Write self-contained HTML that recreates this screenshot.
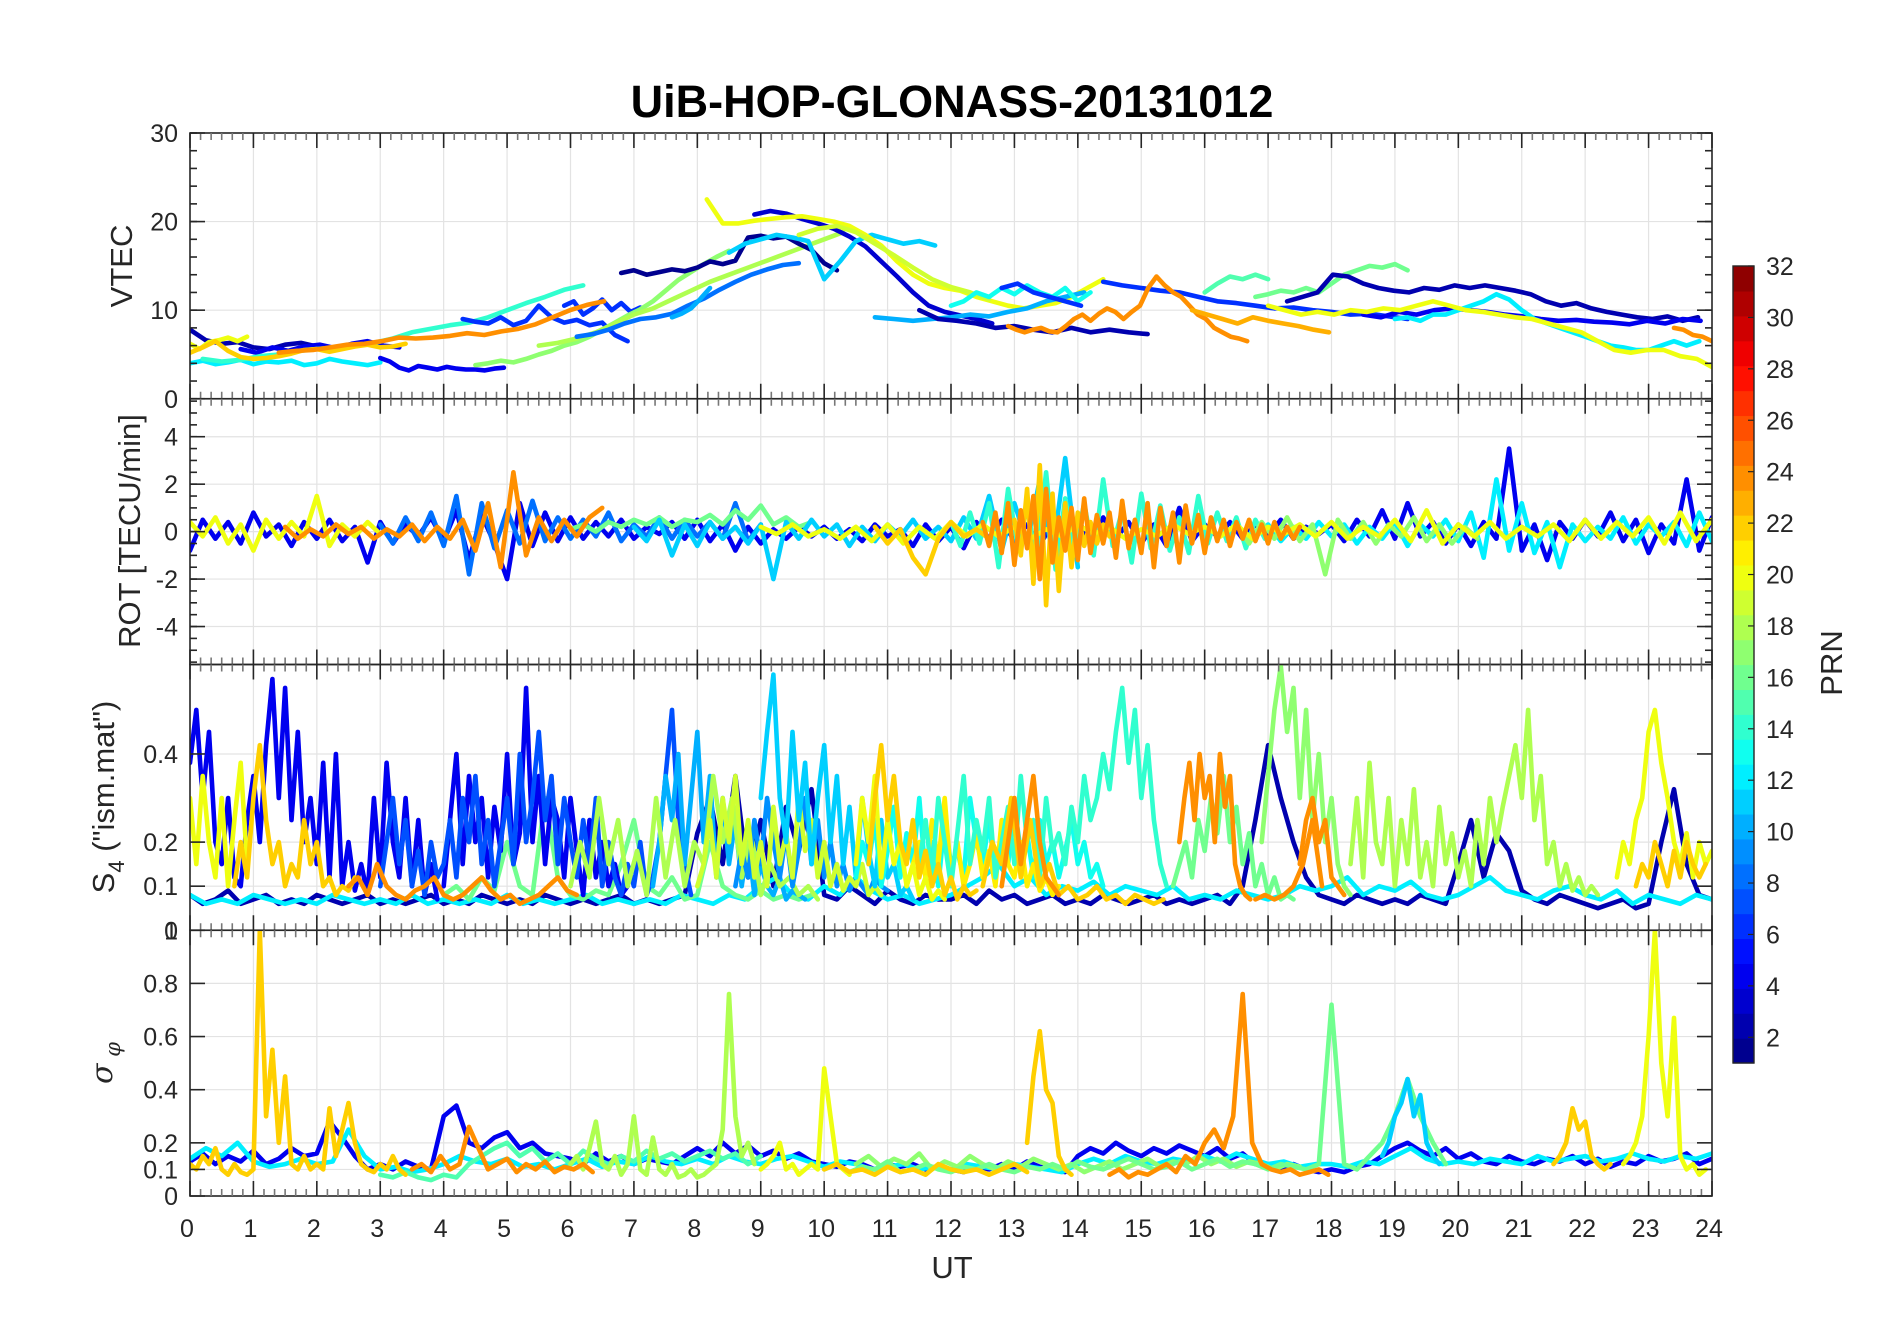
<!DOCTYPE html>
<html><head><meta charset="utf-8"><title>UiB-HOP-GLONASS-20131012</title>
<style>
html,body{margin:0;padding:0;background:#fff;}
svg{display:block;font-family:"Liberation Sans",Arial,sans-serif;}
</style></head>
<body>
<svg id="chart" width="1902" height="1330" viewBox="0 0 1902 1330" xmlns="http://www.w3.org/2000/svg">
<rect width="1902" height="1330" fill="#fff"/>
<text x="952" y="117" text-anchor="middle" font-size="45" font-weight="bold" fill="#000">UiB-HOP-GLONASS-20131012</text>
<g id="panels"></g>
<g id="cbar"></g>
<text x="952" y="1278" text-anchor="middle" font-size="31" fill="#262626">UT</text>
<text transform="translate(132,266) rotate(-90)" text-anchor="middle" font-size="31" fill="#262626">VTEC</text>
<text transform="translate(140,531) rotate(-90)" text-anchor="middle" font-size="31" fill="#262626">ROT [TECU/min]</text>
<text transform="translate(114,797) rotate(-90)" text-anchor="middle" font-size="31" fill="#262626">S<tspan font-size="22" dy="10">4</tspan><tspan dy="-10"> ("ism.mat")</tspan></text>
<text transform="translate(112,1063) rotate(-90)" text-anchor="middle" font-size="30" font-style="italic" fill="#262626" font-family="'DejaVu Serif',serif">σ<tspan font-size="21" dy="8"> φ</tspan></text>
<text transform="translate(1842,663) rotate(-90)" text-anchor="middle" font-size="31" fill="#262626">PRN</text>
</svg>
<script>
// ===== data: each series = [prn, startHour, stepHours, values] =====
const hourTicks=[0,1,2,3,4,5,6,7,8,9,10,11,12,13,14,15,16,17,18,19,20,21,22,23,24];
const vtecTicks=[0,10,20,30];
const rotTicks=[-4,-2,0,2,4];
const s4Ticks=[0,0.1,0.2,0.4];
const s4TickLabels=["0","0.1","0.2","0.4"];
const sigTicks=[0,0.1,0.2,0.4,0.6,0.8,1];
const sigTickLabels=["0","0.1","0.2","0.4","0.6","0.8","1"];
const cbarTicks=[2,4,6,8,10,12,14,16,18,20,22,24,26,28,30,32];

const vtecSeries=[
[12,0,.2,[4,4.3,3.9,4.1,4.4,3.9,4.2,4.1,4.3,3.8,4.0,4.5,4.2,4.0,3.8,4.1]],
[2,0,.25,[7.8,6.6,6.2,6.4,5.8,5.6,6.1,6.3,5.9]],
[4,0.8,.25,[5.6,5.2,5.8,5.4,5.9,6.1,5.7,6.2,6.5,6.0,5.8]],
[4,3.0,.15,[4.6,4.2,3.5,3.2,3.7,3.5,3.3,3.6,3.4,3.3,3.3,3.2,3.4,3.5]],
[14,0.2,.3,[4.5,4.2,4.4,4.8,5,5.4,5.6,5.8,6.0,6.3,6.8,7.5,7.9,8.3,8.6,9.2,10,10.8,11.5,12.3,12.8]],
[20,0,.15,[6.2,5.6,6.4,6.6,6.9,6.5,7.0]],
[22,0,.2,[5.2,5.8,6.5,5.4,4.7,4.5,4.6,4.8,5.1,5.5,5.6,5.3,5.6,5.9,6.1,5.8,5.9,6.2]],
[6,4.3,.2,[9,8.7,8.5,9.2,8.3,8.8,10.5,9.2,8.6,8.9,8.3,8.6,7.2,6.5]],
[6,5.9,.15,[10.5,11,9.5,10.2,11.2,10,10.8,9.8,10.3]],
[17,4.5,.2,[3.8,4.0,4.3,4.1,4.5,5.0,5.4,6.0,6.4,7.0,7.8,8.6,9.4,10.1,11.0,12.2,13.4,14.3,15.2,16.0,16.7]],
[18,5.5,.3,[6.0,6.3,6.8,7.5,8.5,9.5,10.2,11.2,12.2,13.2,14.0,14.8,15.6,16.4,17.2,18.0,18.8]],
[8,6.1,.25,[7.0,7.3,7.8,8.5,9,9.2,9.6,10.5,11.3,12.3,13.2,14,14.6,15.1,15.3]],
[10,7.6,.15,[9.2,9.6,10.2,11.3,12.5]],
[24,1.4,.27,[5.2,5.4,5.5,5.8,6.1,6.2,6.5,6.9,6.8,6.9,7.1,7.4,7.2,7.6,7.9,8.4,9.2,10,10.6,11]],
[1,6.8,.2,[14.2,14.5,14,14.3,14.6,14.4,14.8,15.5,15.2,15.6,18.2,18.4,18.1,18.3,17.5,16.8,15.3,14.5]],
[3,8.9,.25,[20.8,21.2,20.9,20.3,19.8,19.2,18.3,17.2,15.5,13.8,12.0,10.5,9.8,9.4,9.0,8.5]],
[11,8.5,.25,[16.5,17.5,18,18.5,18.2,17.8,13.5,15.5,17.8,18.5,18,17.5,17.8,17.3]],
[20,8.15,.25,[22.5,19.8,19.8,20.1,20.3,20.5,20.6,20.3,20,19.5,18.5,17.3,15.5,14,13,12.5,12.2,11.5,11,10.5,10.2,10.5,10.8,11.5,12.5,13.5]],
[19,9.6,.3,[18.5,19.2,19.5,18.8,17.5,16.2,14.8,13.5,12.6,12.0,11.2]],
[10,10.8,.3,[9.2,9,8.8,9,9.2,9.5,9.3,9.8,10.2,11,11.5,12]],
[2,11.5,.3,[10,9,8.8,8.5,8,8.2,7.8,7.5,8,7.5,7.8,7.5,7.3]],
[13,12.0,.2,[10.5,11,12,11.5,12.5,11.8,12.8,12,11.5,12.5,11,12]],
[6,12.8,.25,[12.5,13,12,11.5,11,10.5]],
[6,14.4,.3,[13.2,12.8,12.5,12.2,12,11.5,11,10.8,10.5,10.2,10.3,10,9.8,9.5,9.6,9.3,9]],
[24,12.9,.13,[8.2,7.8,7.5,7.8,8,7.6,7.5,8.2,9,9.5,8.8,9.6,10.2,9.8,9,9.8,10.5,12.5,13.8,12.8,12,11.5,10.5,9.5,9,8,7.5,7,6.8,6.5]],
[23,15.8,.24,[10,9.5,9,8.5,9.2,8.8,8.5,8.2,7.8,7.5]],
[15,16,.2,[12,13,13.8,13.5,14,13.5]],
[16,16.8,.2,[11.5,11.8,12.2,12,12.5,12,13,14,14.5,15,14.8,15.2,14.5]],
[2,17.3,.24,[11,11.5,12,14,13.8,13,12.5,12.2,12,12.5,12.3,12.8,12.5,12.8,12.5,12.2,11.8,11,10.5,10.8,10.2,9.8,9.5,9.2,9,9.3,8.8,9.2]],
[4,18.5,.28,[9.5,9.2,9.8,9.5,10,10.2,10,9.8,9.5,9.3,9,8.8,8.9,8.7,8.6,8.4,8.8,8.5,9,8.8]],
[12,19,.2,[9,9.2,8.8,9.5,9.5,10,10.5,11,11.8,11.2,10,9,8.5,8,7.5,7,6.5,6,5.8,5.5,5.5,6,6.5,6,6.5]],
[20,17,.26,[10.5,10,9.5,9.8,9.5,10,9.8,10.2,10,10.5,11,10.5,10,9.8,9.5,9.2,9,8.5,8,7.5,6.5,5.5,5.2,5.5,5.5,4.8,4.5,3.5]],
[24,23.4,.15,[8,7.8,7.2,7,6.5]]
];

const rotSeries=[
[4,0,.2,[-0.8,0.5,-0.3,0.4,-0.5,0.8,-0.2,0.3,-0.6,0.4,-0.3,0.5,-0.4,0.2,-1.3,0.4,-0.5,0.3,-0.2,0.6,-0.4,0.9,-1.2,0.7,-0.5,-2,1.2,-0.6,0.8,-0.4,0.6,-0.3,0.4,-0.2,0.5,-0.3,0.2,-0.1,0.4,-0.3,0.5,-0.4,0.3,-0.8,0.2,-0.5,0.1,-0.3,0.2,-0.2,0.2,-0.3,0.1,-0.4,0.3,-0.2,0.1,-0.6,0.3,-0.4,0.2,-0.7,0.4,-0.3,0.5,-0.4,0.3,-0.6,0.4,-0.3,0.5,-0.4,0.6,-0.3,0.4,-0.5,0.3,-0.6,1,-0.4,0.3,-0.2,0.4,-0.3,0.3,-0.2,0.5,-0.3,0.2,-0.1,0.3,-0.4,0.5,-0.2,0.9,-0.3,1.2,-0.2,0.4,-0.5,0.3,-0.6,0.4,-0.3,3.5,-0.8,0.3,-1.2,0.4,-0.3,0.5,-0.2,0.8,-0.4,0.5,-0.9,0.3,-0.5,2.2,-0.8,0.6]],
[8,3,.2,[0.3,-0.5,0.6,-0.4,0.8,-0.6,1.5,-1.8,1.2,-0.7,0.9,-0.5,1.3,-0.4,0.6,-0.3,0.5,-0.2,0.8,-0.4,0.3,-0.2,0.6,-0.3,0.5,-0.2,0.4,-0.3,1.2,-0.4,0.3]],
[16,6,.2,[0.1,0.3,0,0.4,0.2,0.5,0.3,0.6,0.2,0.5,0.4,0.7,0.3,0.9,0.5,1.1,0.3,0.6,0.2,0.4]],
[11,7,.2,[0.2,-0.4,0.5,-1,0.3,-0.6,0.4,-0.3,0.2,-0.5,0.3,-2,0.4,-0.3,0.5,-0.2,0.3,-0.6,0.2,-0.4,0.3,-0.2,0.5,-0.3,0.2,-0.4,0.6,-0.3,1.5,-0.8,1.2,-0.5,2.2,-1,3.1,-1.5]],
[12,17,.2,[0.3,-0.4,0.2,-0.3,0.4,-0.2,0.3,-0.5,0.2,-0.3,0.4,-0.6,0.3,-0.2,0.5,-0.4,0.8,-1.1,2.2,-0.8,1.2,-0.9,0.4,-1.5,0.3,-0.4,0.2,-0.3,0.6,-0.5,0.3,-0.2,0.4,-0.6,0.8,-0.4]],
[14,12,.15,[0.4,-0.6,0.8,-0.5,1.2,-1.5,1.8,-0.6,1.0,-1.2,2.5,-1.6,1.4,-0.8,1.2,-1,2.2,-0.6,0.9,-1.3,1.6,-0.7,1.1,-0.8,0.6,-0.9,1.5,-0.5,0.8,-0.4,0.6,-0.7,0.5,-0.3]],
[17,16.5,.2,[0.3,-0.5,0.4,-0.3,0.6,-0.4,0.3,-1.8,0.5,-0.3,0.4,-0.5,0.3,-0.2,0.6,-0.4,0.3,-0.5,0.2,-0.3]],
[20,0,.2,[0.4,-0.2,0.6,-0.5,0.3,-0.8,0.5,-0.3,0.4,-0.2,1.5,-0.6,0.3,-0.2,0.4,-0.1]],
[20,9,.25,[0.2,-0.1,0.3,-0.2,0.1,-0.3,0.2,-0.4,0.3,-0.5,0.2,-0.3,0.4,-0.2,0.3,-0.2,0.2,-0.3,0.1,-0.2,0.3,-0.1,0.2,-0.3,0.1,-0.2,0.3,-0.1,0.2,-0.2,0.3,-0.3,0.2,-0.1,0.3,-0.2,0.4,-0.3,0.2,-0.2,0.5,-0.4,0.9,-0.5,0.3,-0.2,0.4,-0.3,0.2,-0.2,0.3,-0.4,0.5,-0.3,0.4,-0.2,0.6,-0.5,0.8,-0.4,0.5]],
[22,10.8,.2,[0.2,-0.5,0.1,-1.1,-1.8,-0.3,0.4,-0.2,0.1,-0.3]],
[22,13,.1,[0.5,-1,1.8,-2.2,2.8,-3.1,1.6,-2.5,1.2,-1.5,0.8,-0.6,0.4,-0.5,0.3,-0.2]],
[24,1.5,.2,[0.2,-0.3,0.1,-0.2,0.3,-0.1,0.2,-0.3,0.1,-0.2,0.3,-0.4,0.2,-0.3,0.5,-0.8,1.2,-1.5,2.5,-1.0,0.6,-0.4,0.5,-0.2,0.6,1.0]],
[24,12.5,.1,[0.4,-0.6,0.8,-0.9,1.2,-1.4,0.9,-0.7,1.5,-2.0,1.8,-1.3,0.6,-0.8,1.0,-1.2,1.4,-0.9,0.7,-0.5,0.8,-1.1,1.3,-0.7,0.5,-0.9,1.2,-1.5,1.0,-0.6,0.8,-1.3,1.1,-0.5,0.7,-0.9,0.6,-0.4,0.5,-0.6,0.4,-0.3,0.5,-0.4,0.3,-0.5,0.4,-0.3,0.2,-0.3,0.2]]
];

const s4Series=[
[2,0,.2,[0.08,0.06,0.07,0.09,0.06,0.07,0.08,0.06,0.07,0.06,0.08,0.07,0.06,0.07,0.08,0.06,0.07,0.06,0.07,0.08,0.06,0.07,0.06,0.08,0.07,0.06,0.07,0.06,0.08,0.07,0.06,0.07,0.06,0.07,0.08,0.06,0.07,0.06,0.07,0.08,0.22,0.3,0.15,0.35,0.12,0.25,0.1,0.28,0.18,0.32,0.08,0.07,0.1,0.08,0.06,0.09,0.07,0.06,0.08,0.07,0.07,0.08,0.06,0.09,0.07,0.08,0.06,0.07,0.08,0.06,0.07,0.06,0.08,0.07,0.06,0.07,0.08,0.06,0.07,0.06,0.07,0.08,0.06,0.1,0.25,0.42,0.3,0.2,0.12,0.08,0.07,0.06,0.08,0.07,0.06,0.07,0.06,0.08,0.07,0.06,0.15,0.25,0.12,0.22,0.18,0.09,0.07,0.06,0.08,0.07,0.06,0.05,0.06,0.07,0.05,0.06,0.2,0.32,0.15,0.08,0.07]],
[12,0,.25,[0.08,0.06,0.07,0.06,0.08,0.07,0.06,0.07,0.06,0.08,0.07,0.06,0.07,0.06,0.08,0.06,0.07,0.06,0.07,0.06,0.08,0.06,0.07,0.06,0.07,0.08,0.06,0.07,0.06,0.07,0.06,0.08,0.07,0.06,0.08,0.07,0.1,0.12,0.08,0.07,0.1,0.08,0.12,0.09,0.07,0.08,0.06,0.07,0.08,0.1,0.12,0.15,0.1,0.12,0.08,0.1,0.09,0.11,0.08,0.1,0.09,0.08,0.1,0.07,0.08,0.07,0.09,0.08,0.07,0.08,0.1,0.09,0.1,0.12,0.08,0.1,0.09,0.11,0.08,0.07,0.08,0.1,0.12,0.09,0.08,0.07,0.09,0.1,0.08,0.07,0.09,0.06,0.08,0.07,0.06,0.08,0.07]],
[16,4,.2,[0.08,0.1,0.07,0.12,0.09,0.2,0.1,0.08,0.3,0.12,0.08,0.07,0.09,0.08,0.15,0.25,0.1,0.08,0.12,0.07,0.08,0.2,0.1,0.08,0.07,0.09,0.07,0.08,0.07,0.08]],
[4,0,.1,[0.38,0.5,0.3,0.45,0.2,0.15,0.3,0.12,0.1,0.25,0.35,0.2,0.42,0.57,0.3,0.55,0.25,0.45,0.2,0.3,0.15,0.38,0.12,0.4,0.1,0.2,0.09,0.15,0.08,0.3,0.12,0.38,0.2,0.12,0.3,0.1,0.25,0.08,0.15,0.07]],
[4,4,.1,[0.1,0.25,0.4,0.15,0.35,0.2,0.3,0.12,0.28,0.18,0.4,0.15,0.22,0.55,0.2,0.35,0.15,0.3,0.25,0.12,0.3,0.18,0.08,0.25,0.12,0.2,0.1,0.15,0.08,0.1]],
[7,3,.1,[0.1,0.2,0.3,0.15,0.25,0.1,0.18,0.08,0.2,0.12,0.15,0.25,0.12,0.3,0.2,0.35,0.15,0.25,0.1,0.2,0.3,0.15,0.4,0.2,0.3,0.45,0.25,0.35,0.15,0.3,0.2,0.12,0.25,0.15,0.3,0.1,0.2,0.12,0.08,0.15,0.1,0.2,0.08,0.12,0.2,0.35,0.5,0.25,0.15,0.08]],
[10,7.3,.1,[0.1,0.2,0.35,0.25,0.4,0.15,0.3,0.45,0.2,0.35,0.12,0.3,0.15,0.25,0.1,0.2,0.08,0.15,0.1,0.08,0.12,0.07,0.09,0.08,0.07]],
[18,6,.15,[0.1,0.2,0.12,0.3,0.15,0.25,0.1,0.18,0.08,0.3,0.12,0.25,0.1,0.2,0.15,0.35,0.2,0.3,0.12,0.22,0.08,0.15,0.1,0.12,0.08,0.1,0.07]],
[9,8.6,.1,[0.1,0.18,0.12,0.25,0.15,0.3,0.2,0.12,0.22,0.1,0.18,0.3,0.15,0.25,0.12,0.2,0.1,0.15,0.09,0.12,0.1,0.08,0.12,0.1,0.09]],
[19,8.0,.1,[0.1,0.15,0.25,0.12,0.3,0.2,0.35,0.15,0.25,0.12,0.2,0.1,0.28,0.15,0.22,0.12,0.3,0.18,0.25,0.12,0.2,0.1,0.15,0.09,0.12,0.1,0.15,0.08,0.1,0.08]],
[11,9,.1,[0.3,0.45,0.58,0.3,0.2,0.45,0.25,0.38,0.15,0.3,0.42,0.2,0.35,0.15,0.28,0.12,0.3,0.18,0.1,0.25,0.12,0.15,0.08,0.1,0.07]],
[13,10.5,.1,[0.12,0.2,0.15,0.25,0.1,0.18,0.28,0.12,0.22,0.15,0.3,0.12,0.2,0.1,0.25,0.15,0.18,0.12,0.3,0.2,0.15,0.25,0.12,0.2,0.15,0.28,0.18,0.22,0.12,0.25,0.15,0.2,0.12,0.18,0.25,0.15,0.2,0.12,0.15,0.1]],
[21,11.3,.1,[0.1,0.15,0.2,0.12,0.25,0.15,0.3,0.12,0.2,0.1,0.15,0.22,0.12,0.18,0.1,0.25,0.15,0.12,0.2,0.1,0.15,0.09,0.12,0.08,0.1]],
[14,11.5,.1,[0.15,0.25,0.12,0.3,0.2,0.1,0.22,0.35,0.15,0.25,0.18,0.3,0.12,0.2,0.28,0.15,0.35,0.2,0.25,0.12,0.3,0.18,0.22,0.15,0.28,0.2,0.35,0.25,0.3,0.4,0.32,0.45,0.55,0.38,0.5,0.3,0.42,0.25,0.15,0.1]],
[16,15.5,.1,[0.1,0.15,0.2,0.12,0.25,0.18,0.3,0.22,0.35,0.2,0.28,0.15,0.22,0.1,0.15,0.08,0.12,0.07,0.08,0.07]],
[17,16.9,.1,[0.2,0.35,0.5,0.6,0.45,0.55,0.3,0.5,0.25,0.4,0.2,0.3,0.15,0.1,0.08]],
[18,18.3,.1,[0.15,0.3,0.12,0.38,0.2,0.15,0.3,0.1,0.25,0.15,0.32,0.12,0.2,0.1,0.28,0.15,0.22,0.12,0.18,0.1,0.25,0.15,0.3,0.2,0.28,0.35,0.42,0.3,0.5,0.25,0.35,0.15,0.2,0.1,0.15,0.09,0.12,0.08,0.1,0.08]],
[20,0,.1,[0.3,0.15,0.35,0.2,0.12,0.3,0.1,0.25,0.38,0.15]],
[20,10.5,.1,[0.15,0.3,0.2,0.35,0.12,0.25,0.15,0.2,0.1,0.15,0.08,0.12,0.07,0.09,0.07]],
[20,22.5,.1,[0.12,0.2,0.15,0.25,0.3,0.45,0.5,0.38,0.3,0.2,0.15,0.22,0.12,0.2,0.15,0.18]],
[22,0.7,.1,[0.1,0.2,0.12,0.3,0.42,0.25,0.15,0.2,0.1,0.15,0.12,0.25,0.15,0.2,0.1,0.12,0.08,0.1,0.09,0.12]],
[22,10.7,.1,[0.15,0.3,0.42,0.25,0.35,0.2,0.15,0.25,0.12,0.18,0.1,0.15,0.08,0.12,0.07,0.1,0.08,0.09]],
[22,12.5,.15,[0.1,0.2,0.15,0.3,0.12,0.25,0.1,0.15,0.08,0.1,0.07,0.08,0.1,0.07,0.08,0.06,0.08,0.07,0.06,0.07]],
[22,22.8,.1,[0.1,0.15,0.12,0.2,0.15,0.1,0.18,0.12,0.2,0.15,0.12,0.15]],
[24,2.5,.15,[0.1,0.12,0.08,0.15,0.1,0.08,0.07,0.09,0.1,0.12,0.08,0.07,0.08,0.1,0.12,0.09,0.07,0.08,0.06,0.07,0.08,0.1,0.12,0.09,0.08]],
[24,12.8,.1,[0.1,0.2,0.3,0.15,0.25,0.35,0.2,0.12,0.1,0.08]],
[24,15.6,.08,[0.2,0.3,0.38,0.25,0.4,0.3,0.35,0.2,0.4,0.28,0.35,0.15,0.1,0.08,0.07]],
[24,16.8,.15,[0.07,0.08,0.07,0.08,0.1,0.15,0.25,0.1]],
[24,17.5,.1,[0.15,0.25,0.3,0.2,0.25,0.12,0.1,0.08]]
];

const sigSeries=[
[4,0,.2,[0.13,0.16,0.12,0.15,0.13,0.17,0.12,0.14,0.18,0.15,0.16,0.28,0.22,0.15,0.1,0.12,0.1,0.13,0.11,0.1,0.3,0.34,0.2,0.18,0.22,0.24,0.18,0.2,0.16,0.15,0.14,0.12,0.16,0.13,0.15,0.12,0.14,0.13,0.12,0.15,0.18,0.15,0.2,0.16,0.19,0.15,0.17,0.14,0.16,0.13,0.12,0.11,0.13,0.12,0.1,0.12,0.11,0.12,0.1,0.11,0.1,0.09,0.11,0.1,0.12,0.1,0.13,0.11,0.1,0.09,0.15,0.18,0.16,0.2,0.17,0.15,0.18,0.16,0.19,0.17,0.15,0.18,0.14,0.16,0.12,0.11,0.1,0.12,0.1,0.09,0.1,0.09,0.11,0.12,0.15,0.18,0.2,0.17,0.15,0.18,0.14,0.16,0.13,0.12,0.15,0.13,0.12,0.14,0.13,0.15,0.12,0.14,0.11,0.13,0.12,0.15,0.13,0.14,0.16,0.12,0.14]],
[12,0,.25,[0.14,0.18,0.15,0.2,0.13,0.11,0.12,0.14,0.12,0.13,0.25,0.15,0.1,0.11,0.09,0.1,0.12,0.15,0.13,0.12,0.14,0.11,0.12,0.1,0.12,0.14,0.11,0.13,0.12,0.15,0.13,0.12,0.14,0.12,0.15,0.13,0.12,0.14,0.15,0.13,0.11,0.13,0.12,0.1,0.11,0.12,0.1,0.11,0.1,0.12,0.11,0.1,0.12,0.11,0.1,0.09,0.12,0.14,0.12,0.15,0.13,0.12,0.14,0.13,0.15,0.13,0.16,0.14,0.12,0.13,0.11,0.12,0.12,0.11,0.13,0.12,0.15,0.18,0.14,0.12,0.13,0.12,0.14,0.13,0.12,0.15,0.13,0.14,0.15,0.13,0.14,0.16,0.14,0.13,0.15,0.14,0.16]],
[15,3,.2,[0.08,0.07,0.09,0.07,0.06,0.08,0.07,0.12,0.15,0.18,0.2,0.15,0.18,0.13,0.16,0.12,0.17,0.14,0.12,0.15,0.13,0.17,0.14,0.16,0.13,0.15,0.17,0.14,0.16,0.12,0.15]],
[17,10.5,.2,[0.12,0.15,0.11,0.14,0.12,0.16,0.1,0.13,0.11,0.15,0.12,0.1,0.13,0.11,0.14,0.12,0.1,0.12,0.09,0.11,0.13,0.1,0.12,0.14,0.11,0.13,0.12,0.15,0.12,0.14,0.11,0.13,0.12,0.1,0.12,0.11]],
[16,10,.2,[0.1,0.12,0.09,0.11,0.1,0.13,0.09,0.1,0.12,0.1,0.09,0.11,0.1,0.12,0.1,0.09,0.11,0.1,0.12,0.1,0.13,0.11,0.1,0.12,0.14,0.12,0.1,0.11,0.13,0.1,0.12,0.14,0.11,0.13,0.12,0.1,0.12,0.11,0.1,0.12,0.72,0.12,0.1,0.15,0.2,0.3,0.44,0.3,0.2,0.12]],
[18,6,.1,[0.12,0.15,0.1,0.18,0.28,0.12,0.1,0.15,0.08,0.12,0.3,0.1,0.08,0.22,0.1,0.08,0.12,0.07,0.08,0.1,0.07,0.08,0.1,0.12,0.25,0.76,0.3,0.15,0.2,0.12]],
[11,18.8,.1,[0.15,0.2,0.3,0.35,0.44,0.3,0.38,0.2,0.15,0.12]],
[20,9,.1,[0.1,0.12,0.15,0.2,0.1,0.12,0.08,0.1,0.12,0.1,0.48,0.3,0.12,0.1,0.08]],
[20,22.6,.1,[0.12,0.15,0.2,0.3,0.6,1.0,0.5,0.3,0.67,0.15,0.1,0.12,0.08,0.1]],
[22,0,.1,[0.12,0.1,0.15,0.12,0.18,0.1,0.08,0.12,0.09,0.08,0.1,1.0,0.3,0.55,0.2,0.45,0.12,0.1,0.15,0.1,0.12,0.1,0.33,0.15,0.25,0.35,0.2,0.12,0.1,0.09,0.12,0.1,0.15,0.1,0.08]],
[22,10,.2,[0.1,0.12,0.09,0.1,0.08,0.11,0.09,0.1,0.08,0.12,0.1,0.09,0.1,0.08,0.1,0.12,0.09]],
[22,13.2,.1,[0.2,0.45,0.62,0.4,0.35,0.15,0.1,0.08]],
[22,21.5,.1,[0.12,0.15,0.2,0.33,0.25,0.28,0.15,0.12,0.1,0.12]],
[24,3.5,.15,[0.1,0.12,0.09,0.15,0.1,0.12,0.26,0.18,0.1,0.12,0.14,0.09,0.12,0.1,0.13,0.09,0.11,0.1,0.12,0.09]],
[24,14.5,.15,[0.08,0.1,0.07,0.09,0.08,0.1,0.12,0.09,0.15,0.12,0.2,0.25,0.18,0.3,0.76,0.2,0.12,0.1,0.09,0.1,0.08,0.09,0.1,0.08]]
];

// ===== layout =====
const NS="http://www.w3.org/2000/svg";
const X0=190,X1=1712;
const PANEL_H=265.75;
const panelDefs=[
 {name:"vtec",top:133,min:0,max:30,ticks:vtecTicks,labels:vtecTicks.map(String),minor:2,series:vtecSeries},
 {name:"rot",top:133+PANEL_H,min:-5.6,max:5.6,ticks:rotTicks,labels:rotTicks.map(String),minor:0.5,series:rotSeries},
 {name:"s4",top:133+2*PANEL_H,min:0,max:0.603,ticks:s4Ticks,labels:s4TickLabels,minor:0,series:s4Series},
 {name:"sigma-phi",top:133+3*PANEL_H,min:0,max:1,ticks:sigTicks,labels:sigTickLabels,minor:0,series:sigSeries}
];
function xScale(t){return X0+(t/24)*(X1-X0);}
function jet(v){
 const c=x=>Math.round(255*Math.max(0,Math.min(1,x)));
 return `rgb(${c(1.5-Math.abs(4*v-3))},${c(1.5-Math.abs(4*v-2))},${c(1.5-Math.abs(4*v-1))})`;
}
function prnColor(p){return jet((p-0.5)/32);}
function mk(tag,attrs,parent){const e=document.createElementNS(NS,tag);for(const k in attrs)e.setAttribute(k,attrs[k]);parent.appendChild(e);return e;}

const root=document.getElementById("panels");
panelDefs.forEach((P,pi)=>{
 const y=v=>P.top+PANEL_H*(1-(v-P.min)/(P.max-P.min));
 const g=mk("g",{},root);
 
 
 const cid="clip"+pi;
 const cp=mk("clipPath",{id:cid},g);
 mk("rect",{x:X0,y:P.top,width:X1-X0,height:PANEL_H},cp);
 const grid=mk("g",{stroke:"#e3e3e3","stroke-width":1.2},g);
 
 
 hourTicks.forEach(h=>{const gx=xScale(h);mk("line",{x1:gx,x2:gx,y1:P.top,y2:P.top+PANEL_H},grid);});
 P.ticks.forEach(v=>{const gy=y(v);mk("line",{x1:X0,x2:X1,y1:gy,y2:gy},grid);});
 const sg=mk("g",{"clip-path":`url(#${cid})`,fill:"none","stroke-width":4.6,"stroke-linejoin":"round","stroke-linecap":"round"},g);
 
 
 P.series.forEach(s=>{
  const [prn,t0,dt,vals]=s;
  const d=vals.map((v,i)=>(i?"L":"M")+xScale(t0+i*dt).toFixed(1)+","+y(v).toFixed(1)).join("");
  const path=mk("path",{d:d,stroke:prnColor(prn)},sg);
  
  
 });
 const ax=mk("g",{stroke:"#262626","stroke-width":1.6,fill:"none"},g);
 
 
 mk("rect",{x:X0,y:P.top,width:X1-X0,height:PANEL_H},ax);
 for(let m=0;m<=24*6;m++){
  const gx=xScale(m/6),major=m%6===0,L=major?15:7;
  mk("line",{x1:gx,x2:gx,y1:P.top,y2:P.top+L,stroke:major?"#262626":"#777"},ax);
  mk("line",{x1:gx,x2:gx,y1:P.top+PANEL_H,y2:P.top+PANEL_H-L,stroke:major?"#262626":"#777"},ax);
 }
 if(P.minor){for(let v=P.min;v<=P.max+1e-9;v+=P.minor){const vv=Math.round(v/P.minor)*P.minor;if(vv<P.min||vv>P.max)continue;const gy=y(vv);mk("line",{x1:X0,x2:X0+7,y1:gy,y2:gy},ax);mk("line",{x1:X1,x2:X1-7,y1:gy,y2:gy},ax);}}
 P.ticks.forEach(v=>{const gy=y(v);mk("line",{x1:X0,x2:X0+15,y1:gy,y2:gy},ax);mk("line",{x1:X1,x2:X1-15,y1:gy,y2:gy},ax);});
 P.ticks.forEach((v,i)=>{
  const t=mk("text",{x:178,y:y(v)+9,"text-anchor":"end","font-size":25,fill:"#262626"},g);
  t.textContent=P.labels[i];
  
  
 });
});
hourTicks.forEach(h=>{
 const t=mk("text",{x:xScale(h)-3,y:1237,"text-anchor":"middle","font-size":25,fill:"#262626"},root);
 t.textContent=String(h);
 
 
});
const cb=document.getElementById("cbar");
const CB_X=1733,CB_W=21,CB_TOP=266,CB_BOT=1063;
const nC=32,bh=(CB_BOT-CB_TOP)/nC;
for(let i=0;i<nC;i++){
 const r=mk("rect",{x:CB_X,y:(CB_BOT-(i+1)*bh).toFixed(2),width:CB_W,height:(bh+0.6).toFixed(2),fill:jet((i+0.5)/nC)},cb);
 
 
}
mk("rect",{x:CB_X,y:CB_TOP,width:CB_W,height:CB_BOT-CB_TOP,fill:"none",stroke:"#262626","stroke-width":1.4},cb);
const cy=v=>CB_BOT-(v-1)/31*(CB_BOT-CB_TOP);
cbarTicks.forEach(v=>{
 mk("line",{x1:CB_X+CB_W-6,x2:CB_X+CB_W,y1:cy(v),y2:cy(v),stroke:"#262626","stroke-width":1.2},cb);
 const t=mk("text",{x:1766,y:cy(v)+9,"font-size":25,fill:"#262626"},cb);
 t.textContent=String(v);
 
 
});
</script>
</body></html>
